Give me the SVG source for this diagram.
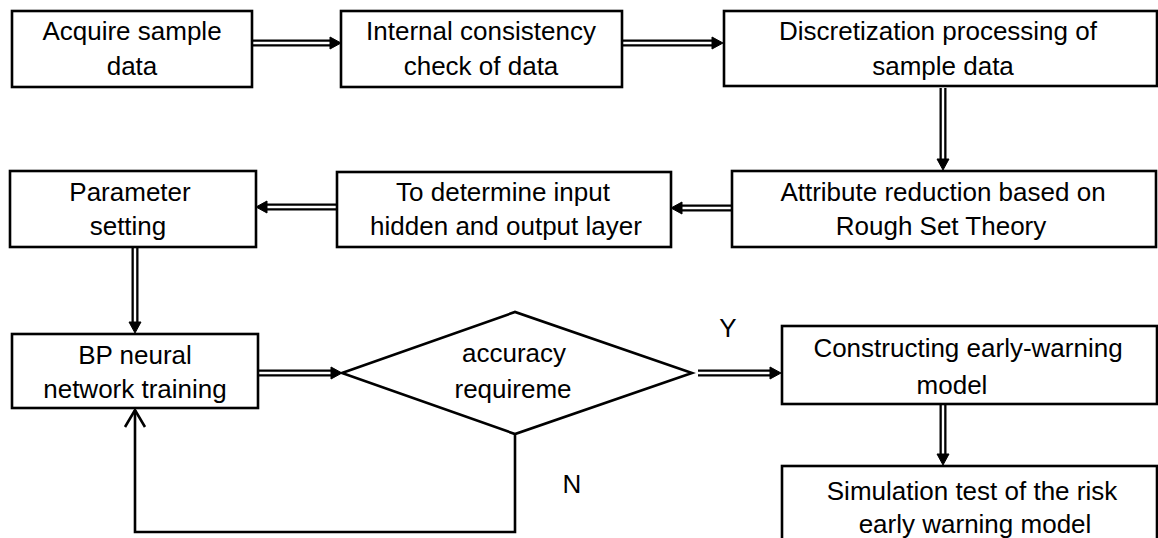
<svg xmlns="http://www.w3.org/2000/svg" width="1158" height="538" viewBox="0 0 1158 538">
  <style>
    .box { fill: #fff; stroke: #000; stroke-width: 2.6; }
    .lbl { font-family: "Liberation Sans", Arial, sans-serif; font-size: 26px; fill: #000; text-anchor: middle; }
    .tag { font-family: "Liberation Sans", Arial, sans-serif; font-size: 26px; fill: #000; text-anchor: middle; }
    .shaft { stroke: #000; stroke-width: 7; fill: none; }
    .core { stroke: #fff; stroke-width: 2.4; fill: none; }
    .head { fill: #000; stroke: #000; stroke-width: 1; stroke-linejoin: miter; }
    .loop { stroke: #000; stroke-width: 2.6; fill: none; }
  </style>

  <rect width="1158" height="538" fill="#fff"/>

  <!-- connectors: double-line arrows and the feedback loop -->
  <g id="connectors">
    <!-- acquire -> consistency -->
    <line class="shaft" x1="253" y1="43" x2="332" y2="43"/>
    <line class="core" x1="253" y1="43" x2="332" y2="43"/>
    <polygon class="head" points="330,37 341,43 330,49"/>
    <!-- consistency -> discretization -->
    <line class="shaft" x1="623" y1="43" x2="714" y2="43"/>
    <line class="core" x1="623" y1="43" x2="714" y2="43"/>
    <polygon class="head" points="712,37 723,43 712,49"/>
    <!-- discretization -> attribute reduction -->
    <line class="shaft" x1="943" y1="88" x2="943" y2="161"/>
    <line class="core" x1="943" y1="88" x2="943" y2="161"/>
    <polygon class="head" points="937,159 943,170 949,159"/>
    <!-- attribute reduction -> layer determination -->
    <line class="shaft" x1="731" y1="208" x2="680" y2="208"/>
    <line class="core" x1="731" y1="208" x2="680" y2="208"/>
    <polygon class="head" points="682,202 671,208 682,214"/>
    <!-- layer determination -> parameter setting -->
    <line class="shaft" x1="336" y1="207" x2="265" y2="207"/>
    <line class="core" x1="336" y1="207" x2="265" y2="207"/>
    <polygon class="head" points="267,201 256,207 267,213"/>
    <!-- parameter setting -> BP training -->
    <line class="shaft" x1="135" y1="248" x2="135" y2="324"/>
    <line class="core" x1="135" y1="248" x2="135" y2="324"/>
    <polygon class="head" points="129,322 135,333 141,322"/>
    <!-- BP training -> accuracy check -->
    <line class="shaft" x1="259" y1="373" x2="333" y2="373"/>
    <line class="core" x1="259" y1="373" x2="333" y2="373"/>
    <polygon class="head" points="331,367 342,373 331,379"/>
    <!-- accuracy check (Y) -> model construction -->
    <line class="shaft" x1="698" y1="373" x2="772" y2="373"/>
    <line class="core" x1="698" y1="373" x2="772" y2="373"/>
    <polygon class="head" points="770,367 781,373 770,379"/>
    <!-- model construction -> simulation test -->
    <line class="shaft" x1="943" y1="405" x2="943" y2="456"/>
    <line class="core" x1="943" y1="405" x2="943" y2="456"/>
    <polygon class="head" points="937,454 943,465 949,454"/>
    <!-- accuracy check (N) -> back to BP training -->
    <polyline class="loop" points="515,434 515,532 135,532 135,410"/>
    <polyline class="loop" points="125,427 135,410 145,427"/>
  </g>

  <g id="n-acquire">
    <rect class="box" x="12" y="11" width="240" height="76"/>
    <text class="lbl" x="132" y="40">Acquire sample</text>
    <text class="lbl" x="132" y="75">data</text>
  </g>

  <g id="n-consistency">
    <rect class="box" x="341" y="11" width="281" height="76"/>
    <text class="lbl" x="481" y="40">Internal consistency</text>
    <text class="lbl" x="481" y="75">check of data</text>
  </g>

  <g id="n-discretization">
    <rect class="box" x="724" y="11" width="433" height="75"/>
    <text class="lbl" x="938" y="40">Discretization processing of</text>
    <text class="lbl" x="943" y="75">sample data</text>
  </g>

  <g id="n-reduction">
    <rect class="box" x="732" y="171" width="424" height="76"/>
    <text class="lbl" x="943" y="201">Attribute reduction based on</text>
    <text class="lbl" x="941" y="235">Rough Set Theory</text>
  </g>

  <g id="n-layers">
    <rect class="box" x="337" y="172" width="334" height="75"/>
    <text class="lbl" x="503" y="201">To determine input</text>
    <text class="lbl" x="506" y="235">hidden  and output layer</text>
  </g>

  <g id="n-parameters">
    <rect class="box" x="10" y="171" width="246" height="76"/>
    <text class="lbl" x="130" y="201">Parameter</text>
    <text class="lbl" x="128" y="235">setting</text>
  </g>

  <g id="n-training">
    <rect class="box" x="12" y="334" width="246" height="74"/>
    <text class="lbl" x="135" y="364">BP neural</text>
    <text class="lbl" x="135" y="398">network training</text>
  </g>

  <g id="n-accuracy">
    <polygon class="box" points="342,373 515,312 692,373 515,434"/>
    <text class="lbl" x="514" y="362">accuracy</text>
    <text class="lbl" x="513" y="398">requireme</text>
  </g>

  <g id="n-model">
    <rect class="box" x="782" y="326" width="375" height="78"/>
    <text class="lbl" x="968" y="357">Constructing early-warning</text>
    <text class="lbl" x="952" y="394">model</text>
  </g>

  <g id="n-simulation">
    <rect class="box" x="782" y="466" width="375" height="90"/>
    <text class="lbl" x="972" y="500">Simulation test of the risk</text>
    <text class="lbl" x="975" y="533">early warning model</text>
  </g>

  <g id="edge-labels">
    <text class="tag" x="728" y="337">Y</text>
    <text class="tag" x="572" y="493">N</text>
  </g>
</svg>
